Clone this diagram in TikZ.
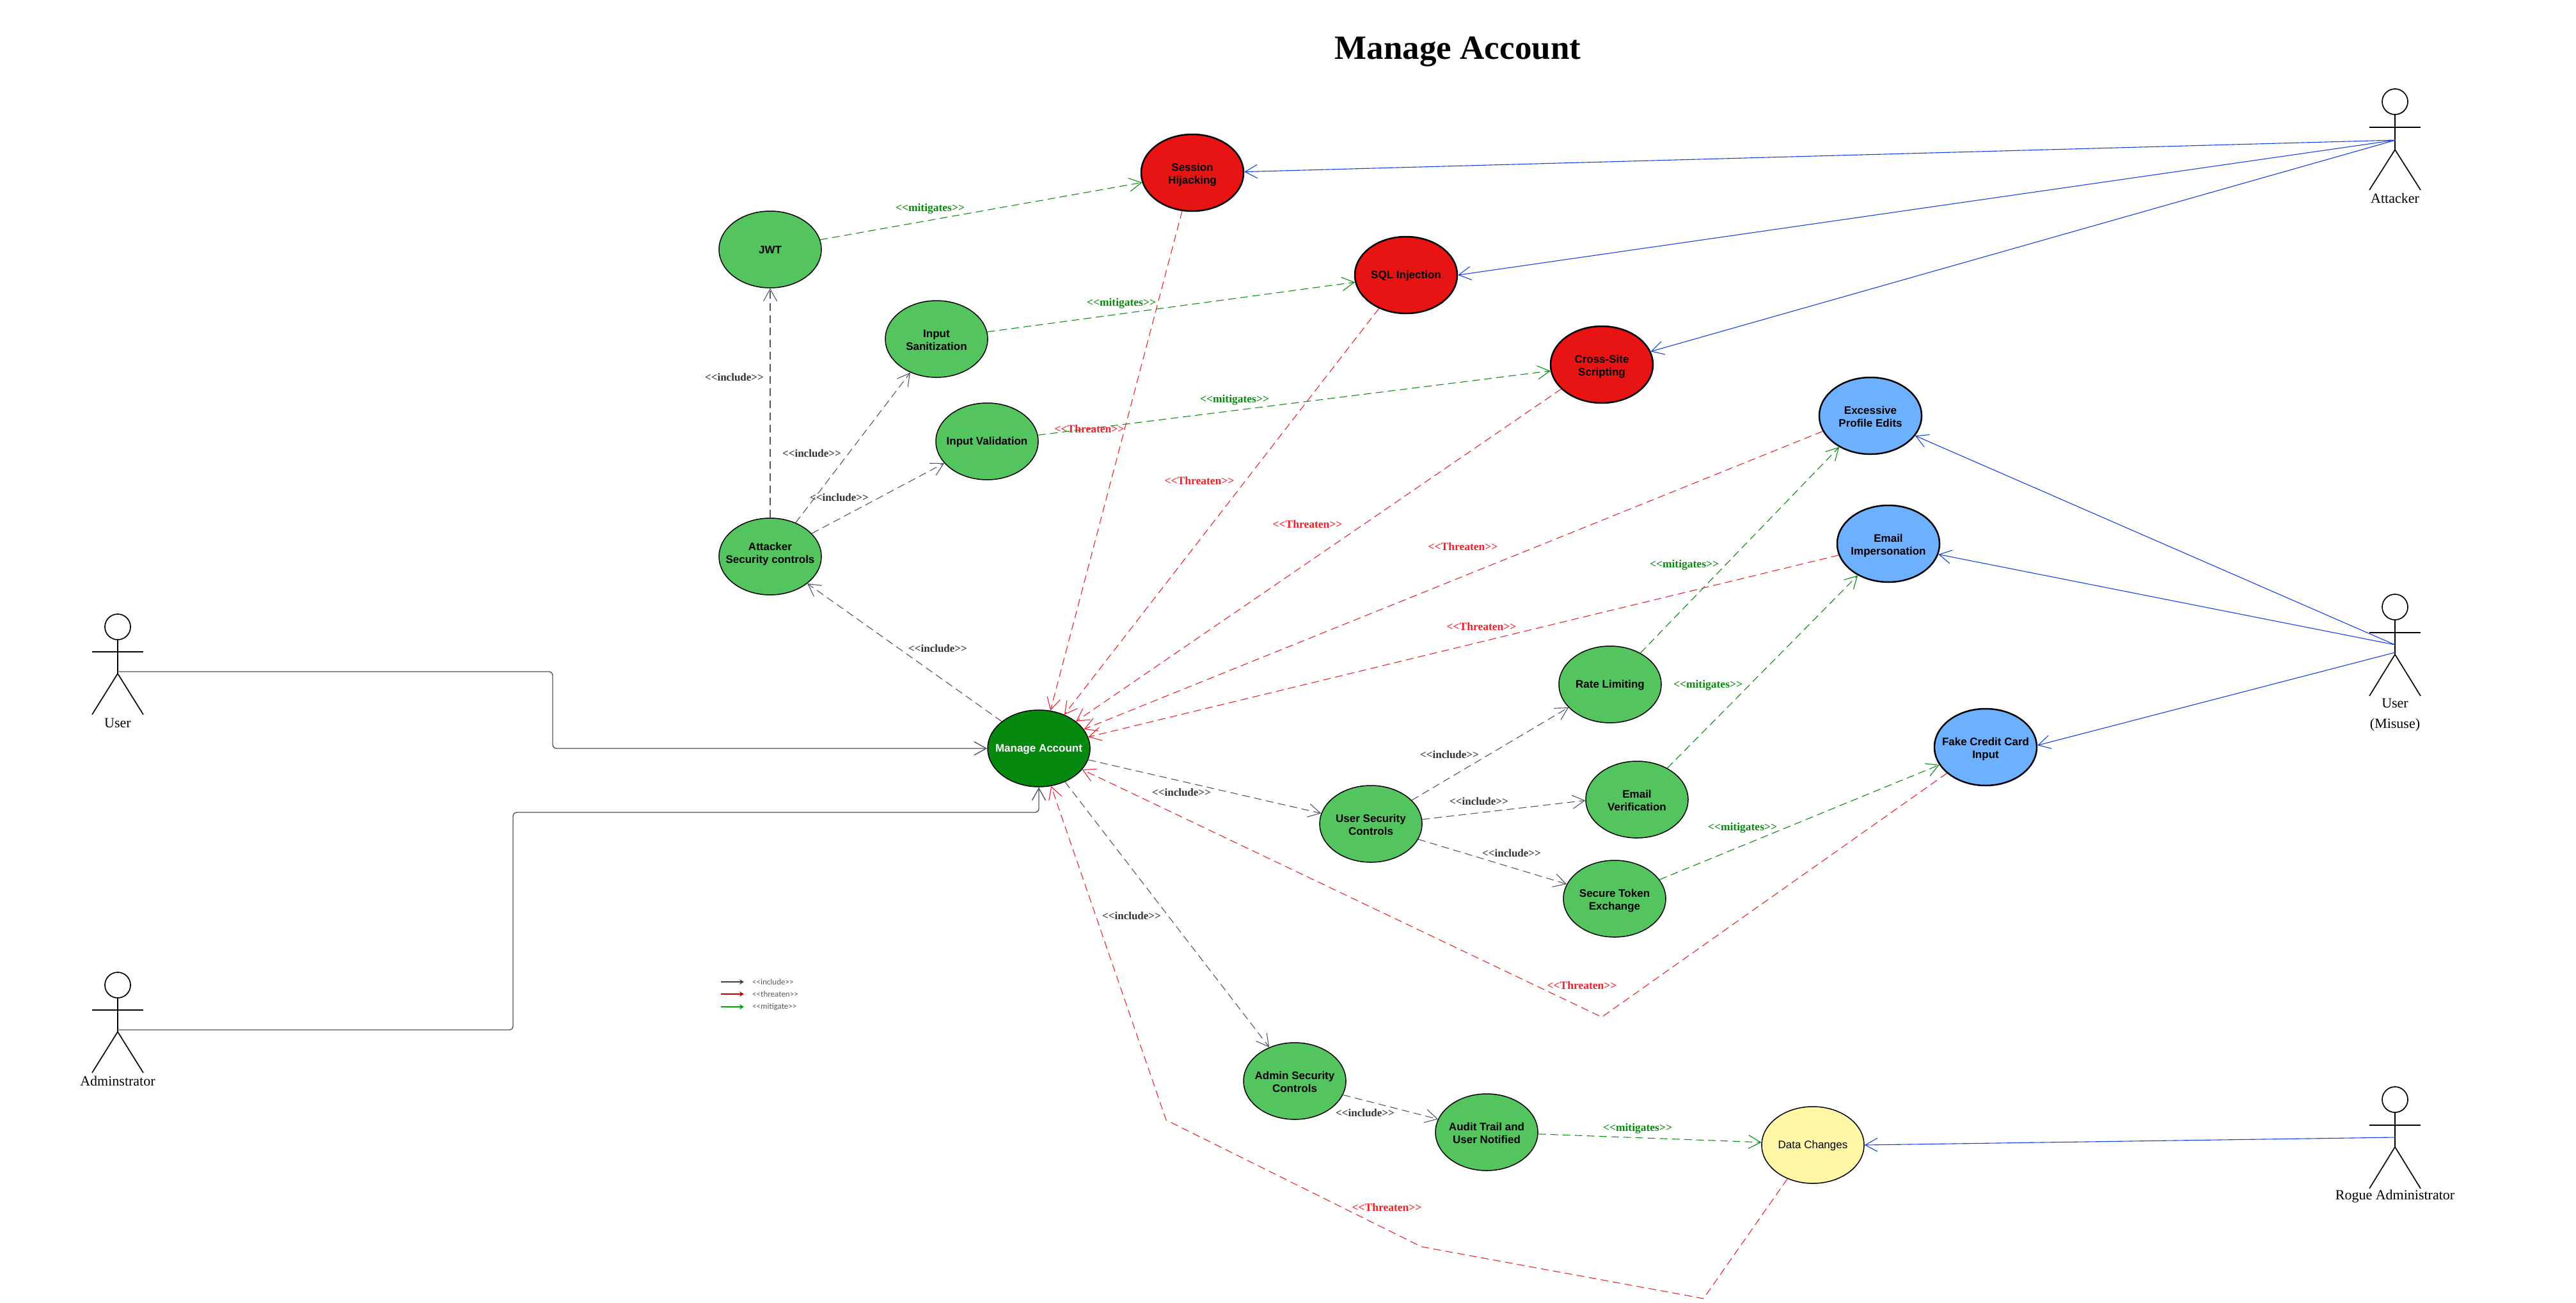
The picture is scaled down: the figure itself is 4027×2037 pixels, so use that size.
\documentclass[tikz,border=0pt]{standalone}
\usepackage{fontspec}
\setmainfont{Liberation Serif}
\newfontfamily\arialf{Liberation Sans}
\newfontfamily\califont{Carlito}
\usetikzlibrary{shapes.geometric,arrows.meta}
\definecolor{incC}{HTML}{4D5566}
\definecolor{thrC}{HTML}{F0202A}
\definecolor{mitC}{HTML}{0A8A0F}
\definecolor{bluC}{HTML}{1240E0}
\definecolor{redF}{HTML}{E81313}
\definecolor{greenF}{HTML}{54C45F}
\definecolor{dgreenF}{HTML}{05880E}
\definecolor{blueF}{HTML}{6CB0FF}
\definecolor{yellowF}{HTML}{FFF7A6}
\newcommand{\stereo}[1]{<{}<#1>{}>}
\newcommand{\uctext}[2][-8pt]{\raisebox{#1}[0pt][0pt]{\makebox[0pt]{\begin{tabular}{@{}c@{}}#2\end{tabular}}}}
\tikzset{
  uc/.style={ellipse,draw=black,minimum width=160pt,minimum height=120pt,inner sep=0pt,font=\arialf\bfseries\fontsize{17}{20}\selectfont},
  ucgreen/.style={uc,fill=greenF,line width=1.5pt},
  ucred/.style={uc,fill=redF,line width=2.5pt},
  ucblue/.style={uc,fill=blueF,line width=2.5pt},
  ucdark/.style={uc,fill=dgreenF,line width=1.5pt,text=white},
  ucyellow/.style={uc,fill=yellowF,line width=1.5pt,font=\arialf\fontsize{17}{20}\selectfont},
  opentip/.style={-{Straight Barb[length=19pt,width=21pt]}},
  inc/.style={opentip,draw=incC,line width=1.1pt,dash pattern=on 12pt off 7pt},
  thr/.style={opentip,draw=thrC,line width=1.1pt,dash pattern=on 12pt off 7pt},
  mit/.style={opentip,draw=mitC,line width=1.1pt,dash pattern=on 12pt off 7pt},
  atk/.style={opentip,draw=bluC,line width=1.1pt},
  assoc/.style={opentip,draw=incC,line width=1.4pt,rounded corners=6pt},
  inclab/.style={text=black!80,font=\bfseries\fontsize{17}{20}\selectfont,inner sep=0pt,yshift=-2pt},
  thrlab/.style={text=thrC,font=\bfseries\fontsize{17.5}{20}\selectfont,inner sep=0pt,yshift=-2pt},
  mitlab/.style={text=mitC,font=\bfseries\fontsize{17.5}{20}\selectfont,inner sep=0pt,yshift=-2pt},
  actorline/.style={draw=black,line width=1.7pt},
  actorhead/.style={circle,draw=black,line width=1.7pt,minimum size=40pt,inner sep=0pt},
  actorlab/.style={align=center,inner sep=0pt,font=\fontsize{22}{32}\selectfont},
  legline/.style={line width=2pt,-{Stealth[length=7pt,width=8pt]}},
  legtext/.style={anchor=west,inner sep=0pt,text=black!65,font=\califont\fontsize{13}{15}\selectfont}
}
% name, x, head centre y, arms y, hip y, foot y
\newcommand{\stickfig}[6]{%
  \node[actorhead] (#1head) at (#2,#3) {};
  \coordinate (#1hip) at (#2,#5);
  \coordinate (#1armL) at (#2-40,#4);
  \coordinate (#1armR) at (#2+40,#4);
  \coordinate (#1footL) at (#2-40,#6);
  \coordinate (#1footR) at (#2+40,#6);
  \draw[actorline] (#1head.south) -- (#1hip);
  \draw[actorline] (#1armL) -- (#1armR);
  \draw[actorline] (#1footL) -- (#1hip) -- (#1footR);
}
\begin{document}
\begin{tikzpicture}[x=1pt,y=-1pt]
\useasboundingbox (0,0) rectangle (4027,2037);
\node[inner sep=0pt,font=\bfseries\fontsize{53}{60}\selectfont] (title) at (2279,81) {Manage Account};

% Use cases
\node[ucred] (SH) at (1864,270) {\uctext{Session\\Hijacking}};
\node[ucred] (SQL) at (2198,430) {\uctext[-5.5pt]{SQL Injection}};
\node[ucred] (CS) at (2504,570) {\uctext{Cross-Site\\Scripting}};
\node[ucgreen] (JWT) at (1204,390) {\uctext[-7pt]{JWT}};
\node[ucgreen] (IS) at (1464,530) {\uctext{Input\\Sanitization}};
\node[ucgreen] (IV) at (1543,690) {\uctext[-5.5pt]{Input Validation}};
\node[ucgreen] (AS) at (1204,870) {\uctext[-1pt]{Attacker\\Security controls}};
\node[ucdark] (MA) at (1624,1170) {\uctext[-5.5pt]{Manage Account}};
\node[ucblue] (EX) at (2924,650) {\uctext{Excessive\\Profile Edits}};
\node[ucblue] (EI) at (2952,850) {\uctext{Email\\Impersonation}};
\node[ucblue] (FK) at (3104,1168) {\uctext{Fake Credit Card\\Input}};
\node[ucgreen] (RL) at (2517,1070) {\uctext[-5.5pt]{Rate Limiting}};
\node[ucgreen] (EV) at (2559,1250) {\uctext{Email\\Verification}};
\node[ucgreen] (ST) at (2524,1405) {\uctext{Secure Token\\Exchange}};
\node[ucgreen] (US) at (2143,1288) {\uctext{User Security\\Controls}};
\node[ucgreen] (AD) at (2024,1690) {\uctext{Admin Security\\Controls}};
\node[ucgreen] (AU) at (2324,1770) {\uctext{Audit Trail and\\User Notified}};
\node[ucyellow] (DC) at (2834,1790) {\uctext[-5.5pt]{Data Changes}};

% Actors
\stickfig{user}{184}{980}{1019}{1053}{1117}
\node[actorlab] (userlab) at (184,1130) {User};
\coordinate (userA) at (184,1050);
\stickfig{admin}{184}{1540}{1579}{1613}{1677}
\node[actorlab] (adminlab) at (184,1690) {Adminstrator};
\coordinate (adminA) at (184,1610);
\stickfig{attacker}{3744}{159}{199}{234}{297}
\node[actorlab] (attackerlab) at (3744,310) {Attacker};
\coordinate (attackerA) at (3745,219);
\stickfig{misuse}{3744}{949}{989}{1023}{1088}
\node[actorlab] (misuselab) at (3744,1118) {User\\(Misuse)};
\coordinate (misuseA) at (3744,1008);
\coordinate (misuseB) at (3744,1020);
\stickfig{rogue}{3744}{1719}{1759}{1793}{1858}
\node[actorlab] (roguelab) at (3744,1870) {Rogue Administrator};
\coordinate (rogueA) at (3745,1778);

% Actor associations
\coordinate (userB1) at (864,1050);
\coordinate (userB2) at (864,1170);
\draw[assoc] (userA) -- (userB1) -- (userB2) -- (MA.west);
\coordinate (adminB1) at (802,1610);
\coordinate (adminB2) at (802,1270);
\coordinate (adminB3) at (1624,1270);
\draw[assoc] (adminA) -- (adminB1) -- (adminB2) -- (adminB3) -- (MA.south);

\draw[atk] (attackerA) -- (SH.1.4);
\draw[atk] (attackerA) -- (SQL.0.7);
\draw[atk] (attackerA) -- (CS.15.3);
\draw[atk] (misuseA) -- (EX.336.5);
\draw[atk] (misuseA) -- (EI.348.6);
\draw[atk] (misuseB) -- (FK.2.8);
\draw[atk] (rogueA) -- (DC.east);

% Mitigates
\draw[mit] (JWT.11) -- (SH.191);
\draw[mit] (IS.8.6) -- (SQL.188);
\draw[mit] (IV.7) -- (CS.187);
\draw[mit] (RL.46.8) -- (EX.225);
\draw[mit] (EV.46) -- (EI.226);
\draw[mit] (ST.23.2) -- (FK.201);
\draw[mit] (AU.358) -- (DC.177);

% Include
\draw[inc] (AS.north) -- (JWT.south);
\draw[inc] (AS.53.7) -- (IS.232.3);
\draw[inc] (AS.29.3) -- (IV.207);
\draw[inc] (MA.144.6) -- (AS.324.6);
\draw[inc] (MA.347) -- (US.168.4);
\draw[inc] (MA.308.5) -- (AD.127);
\draw[inc] (US.30.8) -- (RL.209.7);
\draw[inc] (US.5.6) -- (EV.181);
\draw[inc] (US.342.5) -- (ST.163.9);
\draw[inc] (AD.344.6) -- (AU.165.3);

% Threaten
\draw[thr] (SH.255) -- (MA.73.3);
\draw[thr] (SQL.231) -- (MA.53.5);
\draw[thr] (CS.211.5) -- (MA.36.6);
\draw[thr] (EX.198.4) -- (MA.23.9);
\draw[thr] (EI.193.9) -- (MA.13.3);
\coordinate (fakeBend) at (2504,1590);
\draw[thr] (FK.214.8) -- (fakeBend) -- (MA.334.5);
\coordinate (dataBend1) at (2663,2030);
\coordinate (dataBend2) at (2222,1949);
\coordinate (dataBend3) at (1823,1751);
\draw[thr] (DC.233) -- (dataBend1) -- (dataBend2) -- (dataBend3) -- (MA.288);

% Labels
\node[mitlab] (m1) at (1454,324) {\stereo{mitigates}};
\node[mitlab] (m2) at (1753,472) {\stereo{mitigates}};
\node[mitlab] (m3) at (1930,623) {\stereo{mitigates}};
\node[mitlab] (m4) at (2633,881) {\stereo{mitigates}};
\node[mitlab] (m5) at (2670,1069) {\stereo{mitigates}};
\node[mitlab] (m6) at (2724,1292) {\stereo{mitigates}};
\node[mitlab] (m7) at (2560,1762) {\stereo{mitigates}};
\node[thrlab] (t1) at (1703,669) {\stereo{Threaten}};
\node[thrlab] (t2) at (1875,750) {\stereo{Threaten}};
\node[thrlab] (t3) at (2044,818) {\stereo{Threaten}};
\node[thrlab] (t4) at (2287,853) {\stereo{Threaten}};
\node[thrlab] (t5) at (2316,978) {\stereo{Threaten}};
\node[thrlab] (t6) at (2473,1538) {\stereo{Threaten}};
\node[thrlab] (t7) at (2168,1885) {\stereo{Threaten}};
\node[inclab] (i1) at (1148,588) {\stereo{include}};
\node[inclab] (i2) at (1269,707) {\stereo{include}};
\node[inclab] (i3) at (1312,776) {\stereo{include}};
\node[inclab] (i4) at (1466,1012) {\stereo{include}};
\node[inclab] (i5) at (1847,1237) {\stereo{include}};
\node[inclab] (i6) at (1769,1430) {\stereo{include}};
\node[inclab] (i7) at (2266,1178) {\stereo{include}};
\node[inclab] (i8) at (2312,1251) {\stereo{include}};
\node[inclab] (i9) at (2363,1332) {\stereo{include}};
\node[inclab] (i10) at (2134,1738) {\stereo{include}};

% Legend
\coordinate (la1) at (1127,1535); \coordinate (lb1) at (1163,1535);
\coordinate (la2) at (1127,1554); \coordinate (lb2) at (1163,1554);
\coordinate (la3) at (1127,1574); \coordinate (lb3) at (1163,1574);
\draw[legline,draw=black!75,fill=black!75] (la1) -- (lb1);
\draw[legline,draw=red!75!black,fill=red!75!black] (la2) -- (lb2);
\draw[legline,draw=green!65!black,fill=green!65!black] (la3) -- (lb3);
\node[legtext] (l1) at (1176,1535) {\stereo{include}};
\node[legtext] (l2) at (1176,1554) {\stereo{threaten}};
\node[legtext] (l3) at (1176,1574) {\stereo{mitigate}};
\end{tikzpicture}
\end{document}
